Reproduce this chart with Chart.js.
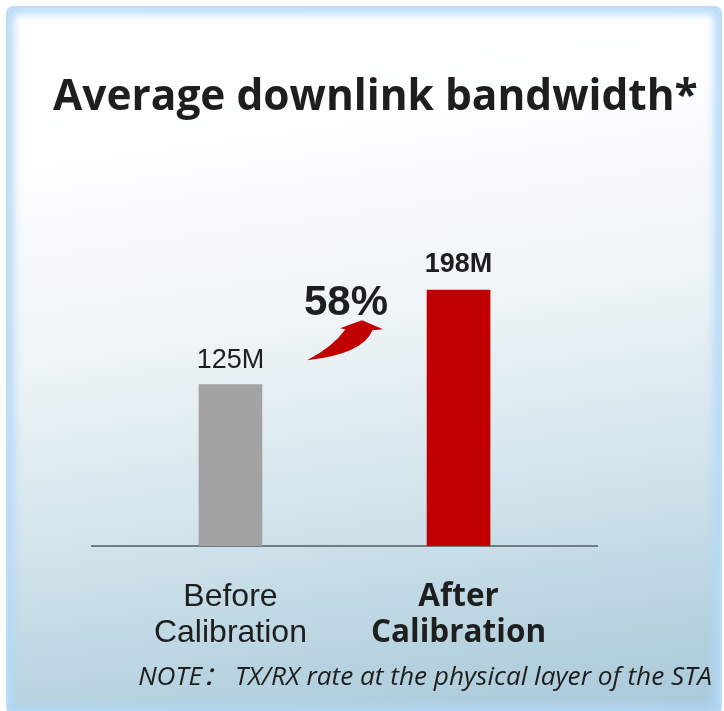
<!DOCTYPE html>
<html><head><meta charset="utf-8">
<script src="https://cdn.jsdelivr.net/npm/chart.js@4"></script>
<style>
html,body{margin:0;padding:0;width:724px;height:711px;overflow:hidden;background:#fff;}
#panel{position:absolute;left:6px;top:6px;width:716px;height:708px;box-sizing:border-box;border:2px solid #bcdcf6;border-radius:7px;
background:linear-gradient(172deg,#ffffff 0%,#fdfeff 20%,#eef4f7 45%,#d2e4ec 68%,#b6d2df 88%,#a9c9da 100%);
box-shadow: inset 0 0 9px 6px rgba(178,216,250,0.9);}
#wrap{position:absolute;left:0;top:0;width:724px;height:711px;}
</style></head>
<body>
<div id="panel"></div>
<div id="wrap"><canvas id="c" width="724" height="711"></canvas></div>
<script>
const categories = [['Before','Calibration'],['After','Calibration']];
const values = [125, 198];
const valueLabels = ['125M', '198M'];
const barColors = ['#a3a3a3', '#c00000'];
const titleText = 'Average downlink bandwidth*';
const noteText = 'NOTE\uFF1A TX/RX rate at the physical layer of the STA';

function fitFont(ctx, text, style, weight, family, targetW) {
  ctx.font = `${style} ${weight} 100px ${family}`;
  const w = ctx.measureText(text).width;
  return 100 * targetW / w;
}

const overlay = {
  id: 'overlay',
  afterDraw(chart) {
    const ctx = chart.ctx;
    const meta = chart.getDatasetMeta(0);
    const ys = chart.scales.y;
    ctx.save();
    // title
    const tf = 'bold', tfam = '"Open Sans", "Noto Sans", sans-serif';
    const ts = fitFont(ctx, titleText, 'normal', tf, tfam, 645);
    ctx.font = `normal ${tf} ${ts}px ${tfam}`;
    ctx.fillStyle = '#1e1e1e';
    ctx.textAlign = 'left';
    ctx.textBaseline = 'alphabetic';
    ctx.fillText(titleText, 53, 110);
    // note
    const nfam = '"Open Sans", "Noto Sans CJK SC", sans-serif';
    const ns = fitFont(ctx, noteText, 'italic', 'normal', nfam, 574);
    ctx.font = `italic normal ${ns}px ${nfam}`;
    ctx.textAlign = 'right';
    ctx.fillText(noteText, 712, 685);
    // value labels
    meta.data.forEach((bar, i) => {
      ctx.font = (i === 1 ? 'bold ' : '') + '27px "Liberation Sans", Arial, sans-serif';
      ctx.textAlign = 'center';
      ctx.fillStyle = '#1e1e1e';
      ctx.fillText(valueLabels[i], bar.x, bar.y - (i === 1 ? 18 : 16));
    });
    // growth annotation
    const b0 = meta.data[0], b1 = meta.data[1];
    const cx = (b0.x + b1.x) / 2;
    const top = ys.getPixelForValue(values[1]);
    const pct = Math.round((values[1] - values[0]) / values[0] * 100);
    ctx.font = 'bold 42px "Liberation Sans", Arial, sans-serif';
    ctx.textAlign = 'center';
    ctx.fillText(pct + '%', cx + 1.5, top + 25);
    ctx.fillStyle = '#c00000';
    ctx.beginPath();
    ctx.moveTo(cx - 37.5, top + 70);
    ctx.quadraticCurveTo(cx - 12, top + 57, cx + 1, top + 39);
    ctx.lineTo(cx - 4.5, top + 38);
    ctx.lineTo(cx + 17.5, top + 30);
    ctx.lineTo(cx + 38.5, top + 39);
    ctx.lineTo(cx + 28, top + 40);
    ctx.quadraticCurveTo(cx + 18, top + 64, cx - 37.5, top + 70);
    ctx.closePath();
    ctx.fill();
    ctx.restore();
  }
};

new Chart(document.getElementById('c'), {
  type: 'bar',
  data: {
    datasets: [{
      data: values.map((v, i) => ({ x: i, y: v })),
      backgroundColor: barColors,
      barThickness: 63,
      borderWidth: 0
    }]
  },
  options: {
    responsive: false,
    animation: false,
    events: [],
    layout: { padding: { left: 92, right: 127, top: 223, bottom: 27 } },
    plugins: { legend: { display: false }, tooltip: { enabled: false }, title: { display: false } },
    scales: {
      x: {
        type: 'linear',
        offset: false,
        bounds: 'data',
        min: -0.607,
        max: 1.607,
        afterBuildTicks: s => { s.ticks = categories.map((c, i) => ({ value: i })); },
        grid: { display: false, drawTicks: false, offset: false },
        border: { display: true, color: '#6f7d85', width: 2 },
        ticks: {
          padding: 33,
          autoSkip: false,
          maxRotation: 0,
          color: '#1e1e1e',
          callback: v => categories[v],
          font: ctx => ctx.index === 1
            ? { family: '"Open Sans", "Noto Sans", sans-serif', size: 31.5, weight: 'bold', lineHeight: 1.143 }
            : { family: '"Liberation Sans", Arial, sans-serif', size: 32, weight: 'normal', lineHeight: 1.125 }
        }
      },
      y: { display: false, min: 0, max: 250 }
    }
  },
  plugins: [overlay]
});
</script>
</body></html>
